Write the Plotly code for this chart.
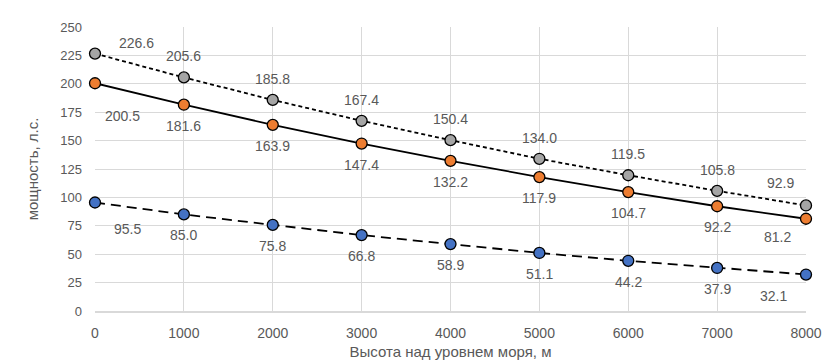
import plotly.graph_objects as go

altitude = [0, 1000, 2000, 3000, 4000, 5000, 6000, 7000, 8000]
gray_vals = [226.6, 205.6, 185.8, 167.4, 150.4, 134.0, 119.5, 105.8, 92.9]
orange_vals = [200.5, 181.6, 163.9, 147.4, 132.2, 117.9, 104.7, 92.2, 81.2]
blue_vals = [95.5, 85.0, 75.8, 66.8, 58.9, 51.1, 44.2, 37.9, 32.1]
y_ticks = list(range(0, 251, 25))

FONT = "Liberation Sans"
TXT = "#595959"

fig = go.Figure()

# style: values, marker colour, dash, default label shift, first/last label shifts
series = [
    (gray_vals, "#A5A5A5", "4px,3px", 21, (41, 11), (-26, 22)),
    (orange_vals, "#ED7D31", "solid", -21, (27, -33), (-29, -18)),
    (blue_vals, "#4472C4", "10px,6px", -21, (32, -26), (-33, -21)),
]
for vals, col, dash, ys, first, last in series:
    fig.add_trace(go.Scatter(
        x=altitude, y=vals, mode="lines+markers",
        line=dict(color="black", width=1.8, dash=dash),
        marker=dict(size=11, color=col, line=dict(color="black", width=1.3)),
        showlegend=False, hoverinfo="skip", cliponaxis=False,
    ))
    n = len(altitude)
    for i, (xv, yv) in enumerate(zip(altitude, vals)):
        sx, sy = 0, ys
        if i == 0:
            sx, sy = first
        elif i == n - 1:
            sx, sy = last
        fig.add_annotation(
            x=xv, y=yv, text=f"{yv:.1f}", showarrow=False,
            xshift=sx, yshift=sy,
            font=dict(family=FONT, size=14, color=TXT),
        )

fig.update_layout(
    width=823, height=352,
    margin=dict(l=87, r=25, t=19, b=49, autoexpand=False),
    paper_bgcolor="white", plot_bgcolor="white",
    font=dict(family=FONT, size=13, color=TXT),
)
fig.update_xaxes(
    range=[0, 8000], tickvals=altitude, showgrid=True, gridcolor="#D9D9D9",
    gridwidth=1, showline=True, linecolor="#D9D9D9", linewidth=1.5,
    zeroline=False, ticks="", automargin=False, ticklabelstandoff=8,
    tickfont=dict(family=FONT, size=14, color=TXT),
    title=dict(text="Высота над уровнем моря, м", font=dict(family=FONT, size=15, color=TXT), standoff=11),
)
fig.update_yaxes(
    range=[0, 250], tickvals=y_ticks, showgrid=True, gridcolor="#D9D9D9",
    gridwidth=1, zeroline=False, showline=False, ticks="", automargin=False,
    ticklabelstandoff=12,
    tickfont=dict(family=FONT, size=13, color=TXT),
    title=dict(text="мощность, л.с.", font=dict(family=FONT, size=15, color=TXT), standoff=18),
)

fig.write_html("out.html")
